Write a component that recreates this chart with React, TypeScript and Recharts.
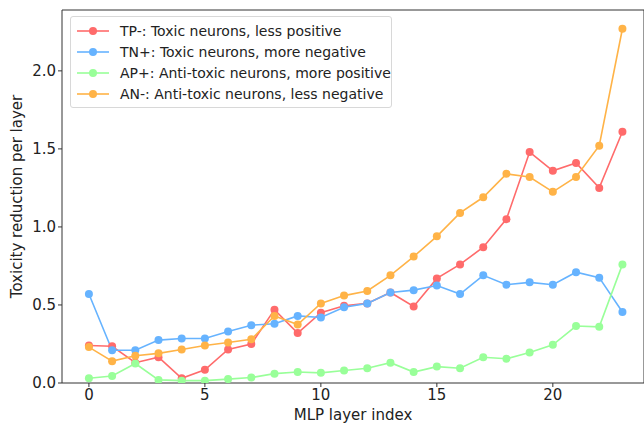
import { LineChart, Line, XAxis, YAxis, Legend, ReferenceLine } from 'recharts'

const layers = Array.from({ length: 24 }, (_, i) => i)

const tpMinus = [0.24, 0.235, 0.13, 0.165, 0.03, 0.085, 0.215, 0.25, 0.47, 0.32, 0.45, 0.495, 0.51, 0.58, 0.49, 0.67, 0.76, 0.87, 1.05, 1.48, 1.36, 1.41, 1.25, 1.61]
const tnPlus = [0.57, 0.21, 0.21, 0.275, 0.285, 0.285, 0.33, 0.37, 0.38, 0.43, 0.42, 0.485, 0.51, 0.58, 0.595, 0.625, 0.57, 0.69, 0.63, 0.645, 0.63, 0.71, 0.675, 0.455]
const apPlus = [0.03, 0.045, 0.125, 0.02, 0.015, 0.015, 0.025, 0.035, 0.06, 0.07, 0.065, 0.08, 0.095, 0.13, 0.07, 0.105, 0.095, 0.165, 0.155, 0.195, 0.245, 0.365, 0.36, 0.76]
const anMinus = [0.23, 0.14, 0.175, 0.19, 0.215, 0.24, 0.26, 0.28, 0.43, 0.375, 0.51, 0.56, 0.59, 0.69, 0.81, 0.94, 1.09, 1.19, 1.34, 1.32, 1.225, 1.32, 1.52, 2.27]

const xTicks = [0, 5, 10, 15, 20]
const yTicks = [0, 0.5, 1.0, 1.5, 2.0]

const series = [
  { key: 'tp', name: 'TP-: Toxic neurons, less positive', color: '#ff6b6b', values: tpMinus },
  { key: 'tn', name: 'TN+: Toxic neurons, more negative', color: '#66b3ff', values: tnPlus },
  { key: 'ap', name: 'AP+: Anti-toxic neurons, more positive', color: '#99ff99', values: apPlus },
  { key: 'an', name: 'AN-: Anti-toxic neurons, less negative', color: '#ffb347', values: anMinus },
]

const data = layers.map((l, i) => {
  const row: any = { layer: l }
  series.forEach(s => { row[s.key] = s.values[i] })
  return row
})

const FONT = 'DejaVu Sans, sans-serif'

const LegendBox = () => (
  <div style={{
    position: 'absolute', left: 70, top: 16, width: 322, boxSizing: 'border-box', border: '1px solid #d8d8d8', borderRadius: 3,
    background: 'rgba(255,255,255,0.85)', padding: '3px 0 3px 5px', fontFamily: FONT, fontSize: 14, color: '#222', whiteSpace: 'nowrap'
  }}>
    {series.map(s => (
      <div key={s.key} style={{ display: 'flex', alignItems: 'center', height: 21 }}>
        <svg width={34} height={10} style={{ marginRight: 10, flex: 'none' }}>
          <line x1={1} y1={5} x2={33} y2={5} stroke={s.color} strokeWidth={1.6} />
          <circle cx={17} cy={5} r={4} fill={s.color} />
        </svg>
        <span>{s.name}</span>
      </div>
    ))}
  </div>
)

export default function App() {
  return (
    <div style={{ position: 'absolute', left: 0, top: 0 }}>
      <LineChart width={644} height={423} data={data} margin={{ top: 10, right: 0, bottom: 0, left: 0 }}>
        <XAxis
          dataKey="layer" type="number" domain={[-1.16, 23.93]} ticks={xTicks} allowDataOverflow
          stroke="#333" tickSize={4} height={40}
          tick={{ fill: '#222', fontSize: 15, fontFamily: FONT }}
          label={{ value: 'MLP layer index', position: 'insideBottom', offset: 3, fill: '#222', fontSize: 15, fontFamily: FONT }}
        />
        <YAxis
          type="number" domain={[0, 2.39]} ticks={yTicks} allowDataOverflow width={62}
          tickFormatter={(v: number) => v.toFixed(1)} stroke="#333" tickSize={4}
          tick={{ fill: '#222', fontSize: 15, fontFamily: FONT }}
          label={{ value: 'Toxicity reduction per layer', angle: -90, position: 'insideLeft', offset: 17, fill: '#222', fontSize: 15, fontFamily: FONT, style: { textAnchor: 'middle' } }}
        />
        <ReferenceLine y={2.39} stroke="#333" />
        <ReferenceLine x={23.93} stroke="#333" />
        {series.map(s => (
          <Line key={s.key} dataKey={s.key} name={s.name} stroke={s.color} strokeWidth={1.6}
            dot={{ r: 4, fill: s.color, stroke: s.color, strokeWidth: 0 }} activeDot={false}
            isAnimationActive={false} />
        ))}
        <Legend content={<LegendBox />} wrapperStyle={{ position: 'absolute', left: 0, top: 0, width: 0, height: 0 }} />
      </LineChart>
    </div>
  )
}
